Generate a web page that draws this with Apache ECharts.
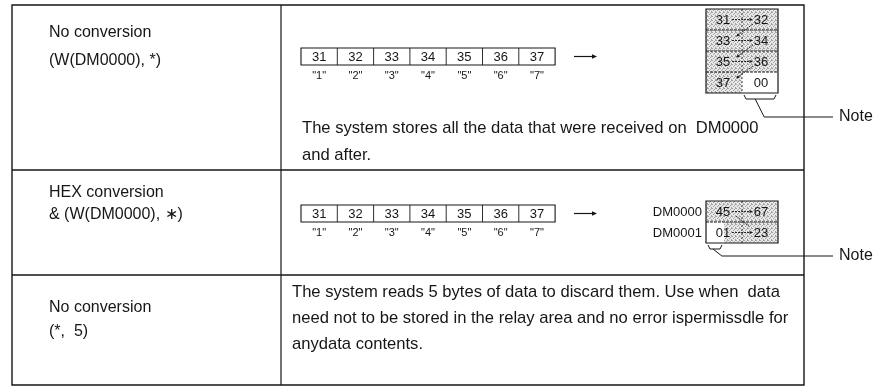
<!DOCTYPE html>
<html><head><meta charset="utf-8">
<script src="https://cdn.jsdelivr.net/npm/echarts@6/dist/echarts.min.js"></script>
<style>html,body{margin:0;padding:0;background:#fff}#c{width:880px;height:388px}</style>
</head><body><div id="c"></div>
<script>
// ---------------- data ----------------
const rowTitles = [
  ["No conversion", "(W(DM0000), *)"],
  ["HEX conversion", "& (W(DM0000), \u2217)"],
  ["No conversion", "(*,  5)"]
];
const receivedBytes = ["31", "32", "33", "34", "35", "36", "37"];
const receivedChars = ['"1"', '"2"', '"3"', '"4"', '"5"', '"6"', '"7"'];
const storedWordsRaw = [["31", "32"], ["33", "34"], ["35", "36"], ["37", "00"]];
const storedWordsHex = [["45", "67"], ["01", "23"]];
const hexAddresses = ["DM0000", "DM0001"];
const paddedRaw = { word: 3, from: 0.5, to: 1 };   // "00" filler byte
const paddedHex = { word: 1, from: 0, to: 0.25 };  // leading "0" nibble
const descNoConv = ["The system stores all the data that were received on  DM0000", "and after."];
const descDiscard = [
  "The system reads 5 bytes of data to discard them. Use when  data",
  "need not to be stored in the relay area and no error ispermissdle for",
  "anydata contents."
];
const noteLabel = "Note";

// ---------------- layout / style ----------------
const FONT = '"Liberation Sans", Arial, Helvetica, sans-serif';
const INK = '#161616';
const L = {
  frame: { x0: 12, xm: 281, x1: 804, y: [5, 170, 275, 385] },
  title: { x: 49, y: [[33, 61], [193, 215], [308, 332]] },
  strip: { x: 301, y: [48, 205], cw: 36.3, h: 17, labelDy: 28, arrowX: [574, 597] },
  mem: { x: 706, w: 72, y: [9, 201], rh: [21, 21], noteY: [117, 256] },
  note: { lineEnd: 833, textX: 839 },
  desc: { x: [302, 292], y: [[128, 155], [292, 318, 344]] }
};

const pc = document.createElement('canvas'); pc.width = 4; pc.height = 4;
const g = pc.getContext('2d');
g.fillStyle = '#e8e8e8'; g.fillRect(0, 0, 4, 4);
g.fillStyle = '#a2a2a2';
[[0, 0], [2, 1], [1, 2], [3, 3], [3, 0]].forEach(d => g.fillRect(d[0], d[1], 1, 1));
const GRAY = { image: pc, repeat: 'repeat' };

function P(api, x, y) { return api.coord([x, y]); }
function line(api, ax, ay, bx, by, st) {
  const a = P(api, ax, ay), b = P(api, bx, by);
  return { type: 'line', shape: { x1: a[0], y1: a[1], x2: b[0], y2: b[1] },
    style: Object.assign({ stroke: INK, lineWidth: 1 }, st || {}) };
}
function rect(api, x, y, w, h, st) {
  const a = P(api, x, y), b = P(api, x + w, y + h);
  return { type: 'rect', shape: { x: a[0], y: a[1], width: b[0] - a[0], height: b[1] - a[1] },
    style: Object.assign({ fill: 'none', stroke: INK, lineWidth: 1 }, st || {}) };
}
function text(api, s, x, y, size, align) {
  const a = P(api, x, y);
  return { type: 'text', x: a[0], y: a[1],
    style: { text: s, font: size + 'px ' + FONT, fill: INK, align: align || 'left', verticalAlign: 'middle' } };
}
function head(api, tx, ty, fx, fy, size) {
  const t = P(api, tx, ty), f = P(api, fx, fy);
  const dx = t[0] - f[0], dy = t[1] - f[1], len = Math.hypot(dx, dy) || 1;
  const ux = dx / len, uy = dy / len, s = size || 4;
  return { type: 'polygon', shape: { points: [
    [t[0], t[1]],
    [t[0] - ux * s - uy * s * 0.45, t[1] - uy * s + ux * s * 0.45],
    [t[0] - ux * s + uy * s * 0.45, t[1] - uy * s - ux * s * 0.45]
  ] }, style: { fill: INK } };
}

// frame
function renderFrame(params, api) {
  const f = L.frame, ch = [];
  ch.push(rect(api, f.x0, f.y[0], f.x1 - f.x0, f.y[3] - f.y[0], { lineWidth: 1.4 }));
  ch.push(line(api, f.xm, f.y[0], f.xm, f.y[3], { lineWidth: 1.2 }));
  for (let i = 1; i < f.y.length - 1; i++) ch.push(line(api, f.x0, f.y[i], f.x1, f.y[i], { lineWidth: 1.4 }));
  return { type: 'group', children: ch };
}
// row titles
function renderTitles(params, api) {
  const i = params.dataIndex, ys = L.title.y[i];
  return { type: 'group', children: rowTitles[i].map((s, k) => text(api, s, L.title.x, ys[k], 16)) };
}
// received byte strips
function renderStrip(params, api) {
  const k = params.dataIndex, s = L.strip, top = s.y[k], ch = [];
  const n = receivedBytes.length;
  ch.push(rect(api, s.x, top, s.cw * n, s.h, { lineWidth: 1.1 }));
  for (let i = 1; i < n; i++) ch.push(line(api, s.x + s.cw * i, top, s.x + s.cw * i, top + s.h, { lineWidth: 0.9 }));
  receivedBytes.forEach((b, i) => {
    ch.push(text(api, b, s.x + s.cw * (i + 0.5), top + s.h / 2 + 0.5, 13, 'center'));
    ch.push(text(api, receivedChars[i], s.x + s.cw * (i + 0.5), top + s.labelDy, 11, 'center'));
  });
  const cy = top + s.h / 2;
  ch.push(line(api, s.arrowX[0], cy, s.arrowX[1] - 3, cy, { lineWidth: 1.2 }));
  ch.push(head(api, s.arrowX[1], cy, s.arrowX[0], cy, 5));
  return { type: 'group', children: ch };
}
// stored memory words + notes
function renderMem(params, api) {
  const k = params.dataIndex, m = L.mem, left = m.x, top = m.y[k], rh = m.rh[k], w = m.w;
  const words = k === 0 ? storedWordsRaw : storedWordsHex;
  const pad = k === 0 ? paddedRaw : paddedHex;
  const n = words.length, ch = [];
  words.forEach((wd, r) => {
    const y = top + r * rh;
    ch.push(rect(api, left, y, w, rh, { fill: GRAY, stroke: null, lineWidth: 0 }));
    if (r === pad.word) ch.push(rect(api, left + pad.from * w, y, (pad.to - pad.from) * w, rh, { fill: '#fff', stroke: null, lineWidth: 0 }));
  });
  ch.push(rect(api, left, top, w, rh * n, { lineWidth: 1.2 }));
  for (let r = 1; r < n; r++) ch.push(line(api, left, top + r * rh, left + w, top + r * rh, { lineWidth: 1, lineDash: [3, 1] }));
  ch.push(line(api, left + w / 2, top, left + w / 2, top + rh * n, { lineWidth: 0.8, lineDash: [2, 2] }));
  words.forEach((wd, r) => {
    const cy = top + r * rh + rh / 2;
    ch.push(text(api, wd[0], left + 17, cy + 0.5, 13, 'center'));
    ch.push(text(api, wd[1], left + 55, cy + 0.5, 13, 'center'));
    if (!(k === 0 && r === n - 1)) {
      ch.push(line(api, left + 26, cy, left + 44, cy, { lineWidth: 0.9, lineDash: [2, 1] }));
      ch.push(head(api, left + 47, cy, left + 26, cy, 3.5));
    }
    if (k === 1) ch.push(text(api, hexAddresses[r], left - 4, cy + 1, 13, 'right'));
  });
  if (k === 0) {
    for (let r = 0; r < n - 1; r++) {
      const yb = top + (r + 1) * rh;
      ch.push(line(api, left + 47, yb - 6, left + 32, yb + 5, { lineWidth: 0.9, lineDash: [2, 1] }));
      ch.push(head(api, left + 30, yb + 6.5, left + 47, yb - 6, 3.5));
    }
  } else {
    const yb = top + rh;
    ch.push(line(api, left + 30, yb - 6, left + 44, yb + 5, { lineWidth: 0.9, lineDash: [2, 1] }));
  }
  // note bracket
  const a = left + pad.from * w + 2, b = left + pad.to * w - 2, by = top + rh * n + 2;
  const pts = [[a, by], [a + 2, by + 4], [b - 2, by + 4], [b, by]].map(p => P(api, p[0], p[1]));
  ch.push({ type: 'polyline', shape: { points: pts }, style: { stroke: INK, lineWidth: 1, fill: null } });
  const hx = a + (b - a) * 0.35, ny = m.noteY[k];
  const hp = [[hx, by + 4], [hx + 9, ny], [L.note.lineEnd, ny]].map(p => P(api, p[0], p[1]));
  ch.push({ type: 'polyline', shape: { points: hp }, style: { stroke: INK, lineWidth: 1, fill: null } });
  ch.push(text(api, noteLabel, L.note.textX, ny, 16, 'left'));
  return { type: 'group', children: ch };
}
// descriptions
function renderDesc(params, api) {
  const k = params.dataIndex, lines = k === 0 ? descNoConv : descDiscard;
  return { type: 'group', children: lines.map((s, i) => text(api, s, L.desc.x[k], L.desc.y[k][i], 16.6)) };
}

const chart = echarts.init(document.getElementById('c'));
chart.setOption({
  animation: false,
  backgroundColor: '#fff',
  grid: { left: 0, right: 0, top: 0, bottom: 0 },
  xAxis: { type: 'value', min: 0, max: 880, show: false },
  yAxis: { type: 'value', min: 0, max: 388, inverse: true, show: false },
  series: [
    { type: 'custom', renderItem: renderFrame, data: [[0, 0]], silent: true },
    { type: 'custom', renderItem: renderTitles, data: rowTitles.map((t, i) => [i, 0]), silent: true },
    { type: 'custom', renderItem: renderStrip, data: [[0, 0], [1, 0]], silent: true },
    { type: 'custom', renderItem: renderMem, data: [[0, 0], [1, 0]], silent: true },
    { type: 'custom', renderItem: renderDesc, data: [[0, 0], [1, 0]], silent: true }
  ]
});
</script>
</body></html>
